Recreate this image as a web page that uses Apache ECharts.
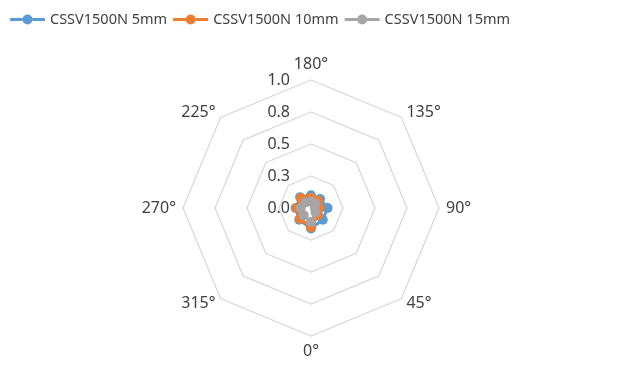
<!DOCTYPE html>
<html>
<head>
<meta charset="utf-8">
<script src="https://cdn.jsdelivr.net/npm/echarts@6/dist/echarts.min.js"></script>
<style>
  html, body { margin: 0; padding: 0; background: #fff; }
  #chart { width: 639px; height: 369px; }
</style>
</head>
<body>
<div id="chart"></div>
<script>
// Angles listed in the order ECharts lays radar axes out (counter-clockwise from the top)
const categories = ['180°', '225°', '270°', '315°', '0°', '45°', '90°', '135°'];
const seriesNames = ['CSSV1500N 5mm', 'CSSV1500N 10mm', 'CSSV1500N 15mm'];
const values5mm  = [0.10, 0.12, 0.12, 0.13, 0.16, 0.13, 0.13, 0.10];
const values10mm = [0.08, 0.11, 0.11, 0.12, 0.15, 0.08, 0.07, 0.08];
const values15mm = [0.05, 0.06, 0.08, 0.08, 0.11, 0.05, 0.03, 0.05];
const colors = ['#5B9BD5', '#ED7D31', '#A5A5A5'];

const font = '"Noto Sans", "Open Sans", sans-serif';
const textColor = '#404040';

// legend swatch: a short line with a round marker in the middle
const legendIcon = 'path://M0,3.5L12.5,3.5L12.5,6.5L0,6.5Z M22.5,3.5L35,3.5L35,6.5L22.5,6.5Z M12.5,5A5,5,0,1,1,22.5,5A5,5,0,1,1,12.5,5Z';

const indicators = categories.map((name, i) => {
  const ind = { name: name, min: 0, max: 1 };
  if (i === 0) {
    ind.axisLabel = {
      show: true,
      color: textColor,
      fontFamily: font,
      fontSize: 16,
      margin: 21,
      formatter: v => Number(v).toFixed(1)
    };
  }
  return ind;
});

const chart = echarts.init(document.getElementById('chart'), null, { renderer: 'canvas' });
chart.setOption({
  animation: false,
  color: colors,
  legend: {
    top: 7,
    left: 5,
    itemWidth: 35,
    itemHeight: 10,
    itemGap: 6,
    icon: legendIcon,
    textStyle: { color: textColor, fontFamily: font, fontSize: 14.5 },
    data: seriesNames
  },
  radar: {
    center: [311, 208],
    radius: 128,
    startAngle: 90,
    shape: 'polygon',
    splitNumber: 4,
    indicator: indicators,
    axisName: { color: textColor, fontFamily: font, fontSize: 16 },
    nameGap: 7,
    axisLine: { show: false },
    axisTick: { show: false },
    axisLabel: { show: false },
    splitArea: { show: false },
    splitLine: { lineStyle: { color: '#D9D9D9', width: 1.3 } }
  },
  series: [{
    type: 'radar',
    symbol: 'circle',
    symbolSize: 10,
    lineStyle: { width: 3 },
    data: [
      { name: seriesNames[0], value: values5mm,  itemStyle: { color: colors[0] }, lineStyle: { color: colors[0], width: 3 } },
      { name: seriesNames[1], value: values10mm, itemStyle: { color: colors[1] }, lineStyle: { color: colors[1], width: 3 } },
      { name: seriesNames[2], value: values15mm, itemStyle: { color: colors[2] }, lineStyle: { color: colors[2], width: 3 } }
    ]
  }]
});
</script>
</body>
</html>
